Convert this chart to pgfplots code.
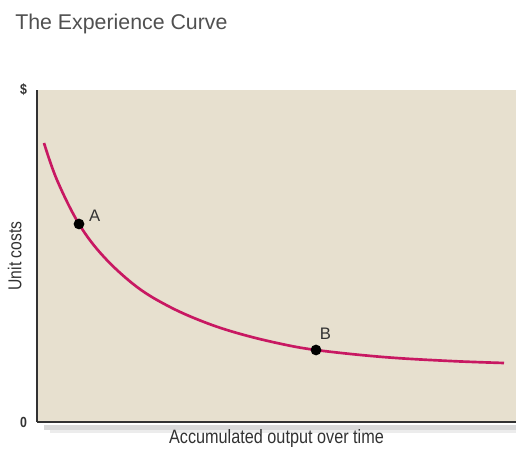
\documentclass[border=0pt]{standalone}
\usepackage{pgfplots}
\pgfplotsset{compat=1.18}
\usepackage{fontspec}
\setmainfont{Liberation Sans}
\newfontfamily\cond[FakeStretch=0.84]{Liberation Sans}
\definecolor{bgbeige}{RGB}{231,224,207}
\definecolor{curve}{RGB}{200,24,98}
\definecolor{titlegray}{RGB}{80,80,80}
\definecolor{axisgray}{RGB}{50,50,50}

\begin{document}
\begin{tikzpicture}[x=0.75pt,y=0.75pt]
% page frame 516 x 452 px
\path[use as bounding box] (0,0) rectangle (516,452);
\node[anchor=north west,inner sep=0pt,text=titlegray,font=\fontsize{16}{18}\selectfont] at (15,438) {The Experience Curve};
% shadow under the x axis
\fill[gray!30] (44,22) rectangle (516,27);
\fill[gray!15] (50,19) rectangle (516,22);
\begin{axis}[
    at={(37,30)}, anchor=south west,
    scale only axis,
    width=359.25pt, height=249pt,
    xmin=0, xmax=479, ymin=0, ymax=332,
    axis lines*=left,
    axis line style={axisgray, line width=1.2pt, -},
    axis background/.style={fill=bgbeige},
    xtick=\empty,
    ytick={0,332}, yticklabels={0,\$},
    major tick length=0pt,
    yticklabel style={font=\cond\fontsize{11}{12}\selectfont\bfseries, text=axisgray, xshift=-4pt},
    xlabel={Accumulated output over time},
    ylabel={Unit costs},
    xlabel style={font=\cond\fontsize{14.5}{16}\selectfont, text=axisgray, yshift=-2pt},
    ylabel style={font=\cond\fontsize{14}{15}\selectfont, text=axisgray, yshift=-8pt},
    clip=false,
]
\addplot[curve, line width=2pt, smooth, tension=0.6] coordinates {
  (7,279) (20,242) (42,198) (67,165) (100,135) (133,115) (167,100)
  (200,89) (240,79) (279,72) (346,65) (413,61) (467,59)
};
\addplot[only marks, mark=*, mark size=3.8pt, black,
  nodes near coords, point meta=explicit symbolic,
  every node near coord/.style={font=\fontsize{12.5}{13}\selectfont, text=axisgray,
    anchor=west, xshift=4pt, yshift=6pt}]
  table[meta=lab] {
x y lab
42 198 A
};
\addplot[only marks, mark=*, mark size=3.8pt, black,
  nodes near coords, point meta=explicit symbolic,
  every node near coord/.style={font=\fontsize{12.5}{13}\selectfont, text=axisgray,
    anchor=south, xshift=7pt, yshift=4pt}]
  table[meta=lab] {
x y lab
279 72 B
};
\end{axis}
\end{tikzpicture}
\end{document}
